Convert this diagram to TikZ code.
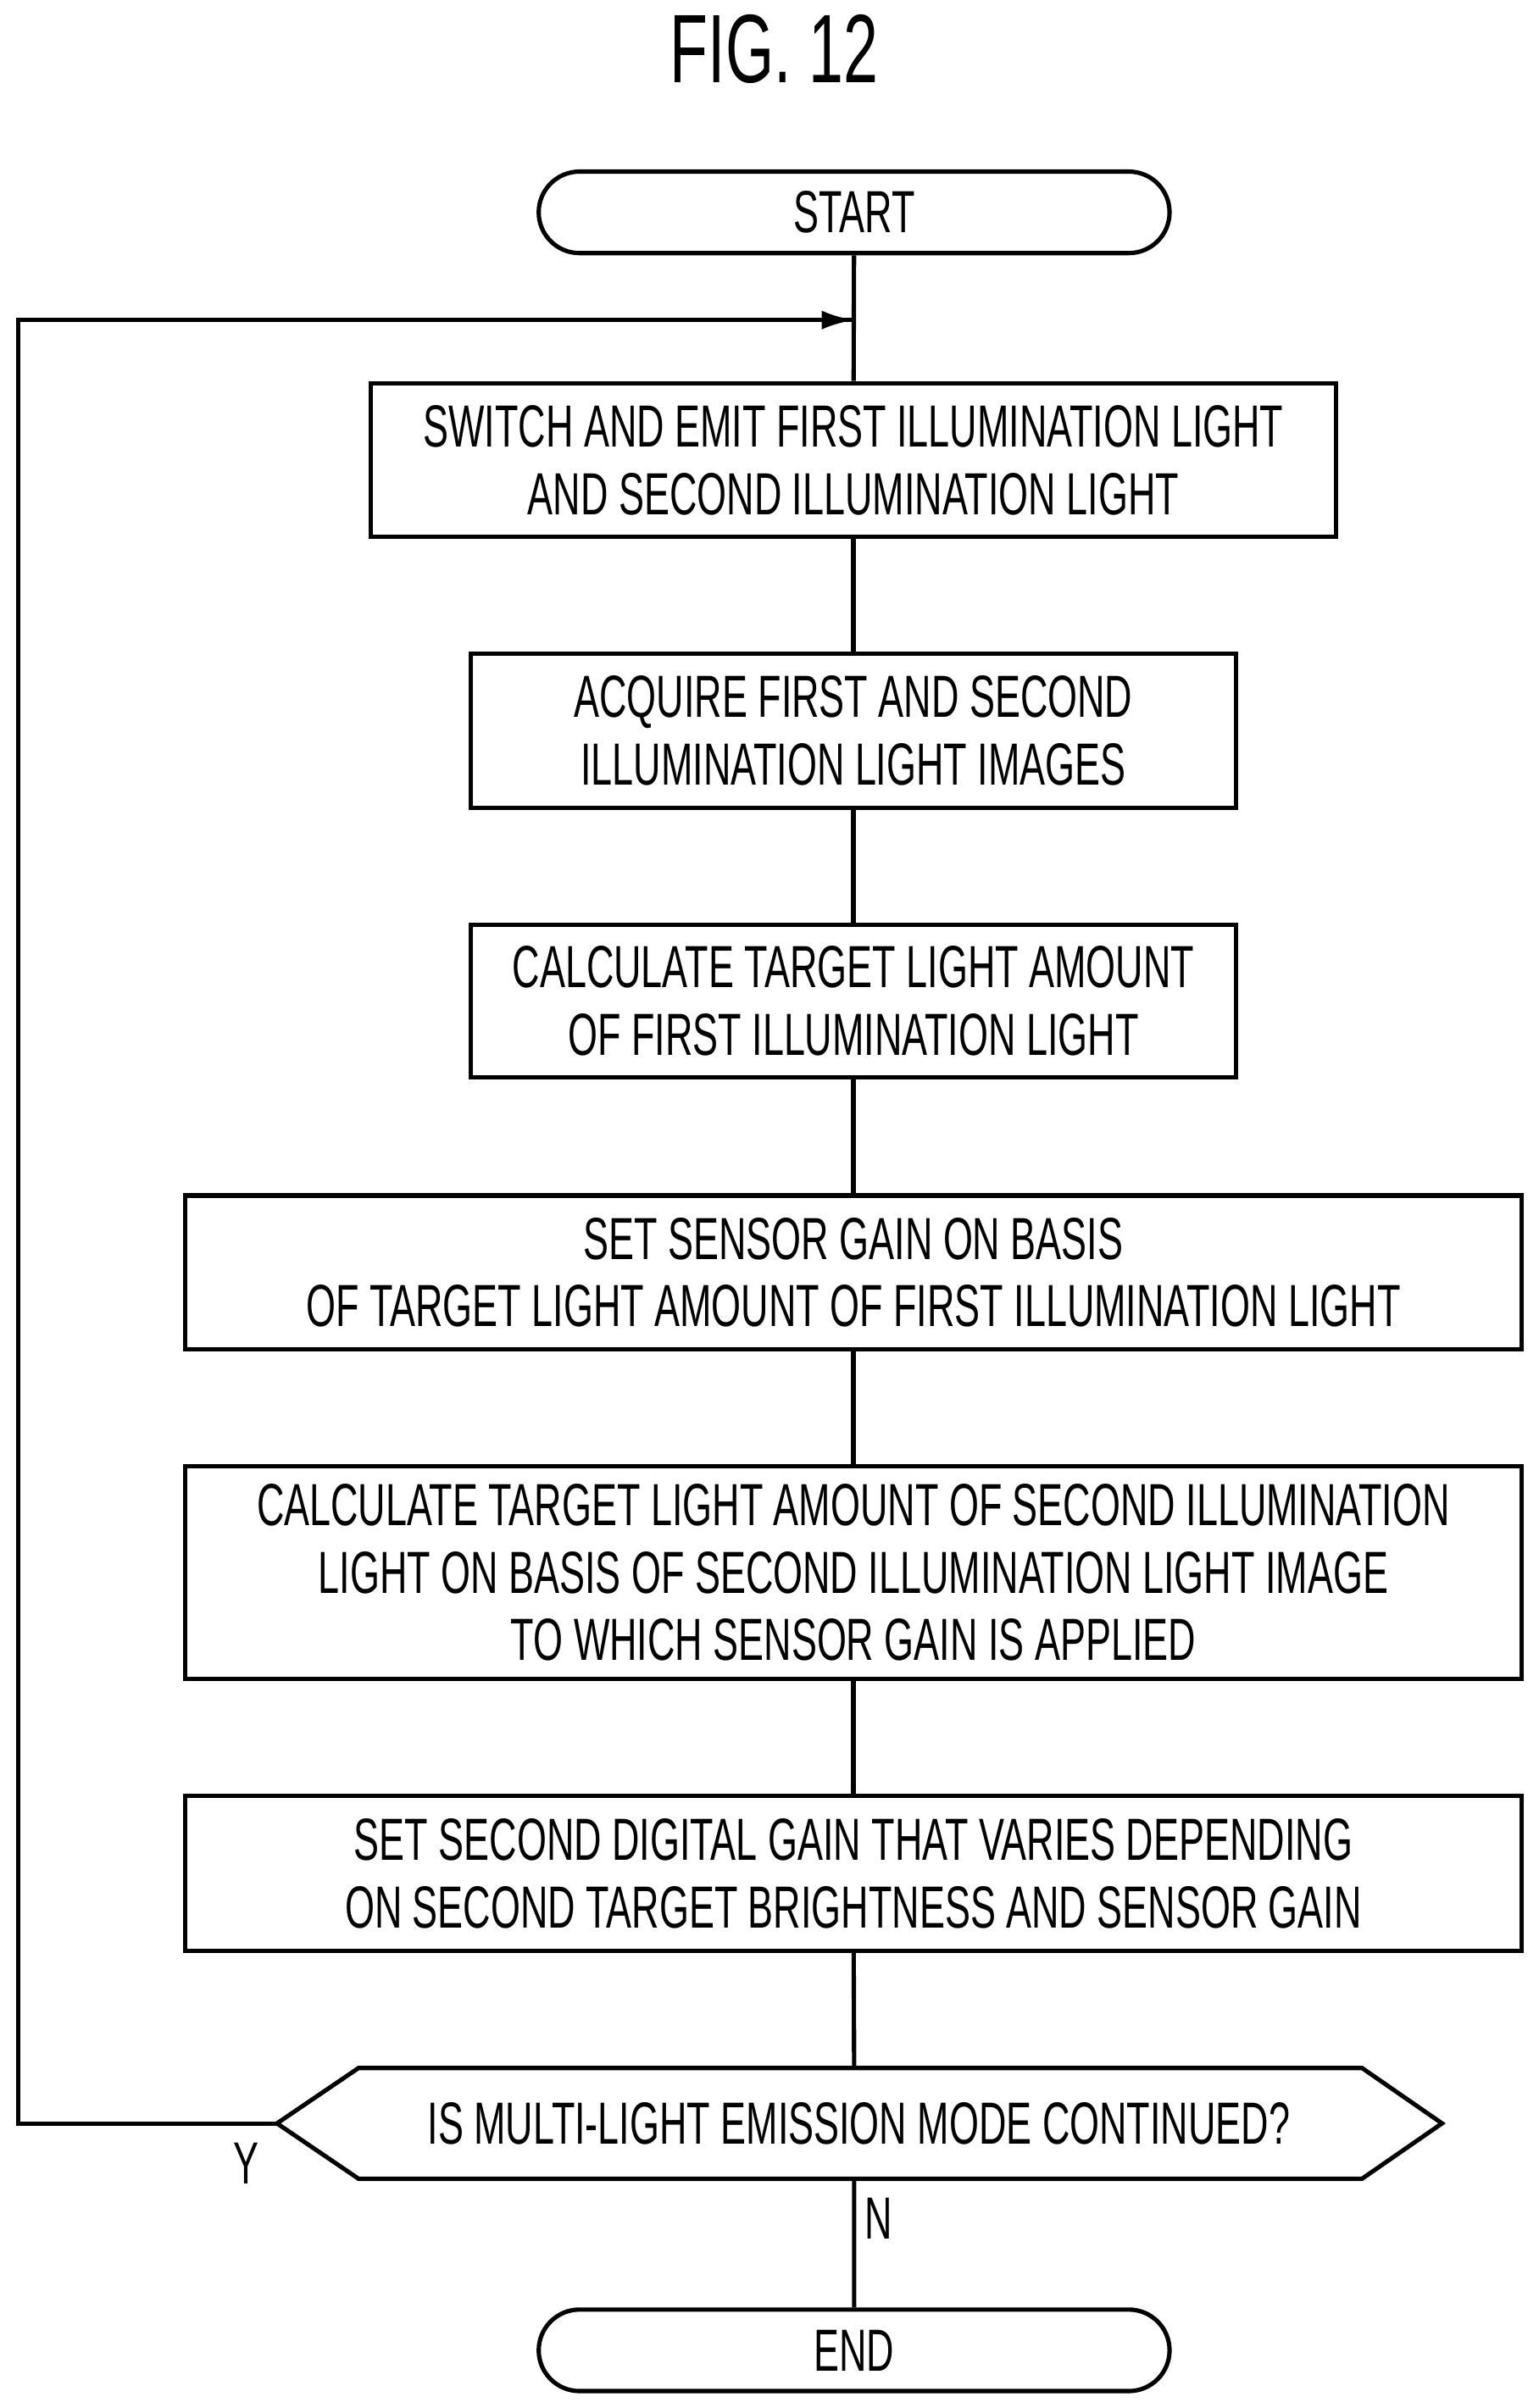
\documentclass[tikz,border=0pt]{standalone}
\usepackage{fontspec}
\setmainfont[FakeStretch=0.64]{Liberation Sans}
\usetikzlibrary{arrows.meta,shapes.misc}
\begin{document}
\begin{tikzpicture}[x=0.02cm,y=-0.02cm,
  line width=1.6pt,
  every node/.style={font=\fontsize{22}{25}\selectfont, align=center, inner sep=0pt},
  box/.style={draw, rectangle},
  term/.style={draw, rounded rectangle, minimum width=8.2cm, minimum height=1.06cm},
  lbl/.style={font=\fontsize{22}{25}\selectfont}]
\useasboundingbox (0,0) rectangle (1000,1565);
\node[font=\fontsize{36}{40}\selectfont] (title) at (503,32) {FIG. 12};
\node[term] (start) at (555,138) {START};
\node[box, minimum width=12.54cm, minimum height=2cm] (b1) at (554.5,299) {SWITCH AND EMIT FIRST ILLUMINATION LIGHT\\AND SECOND ILLUMINATION LIGHT};
\node[box, minimum width=9.94cm, minimum height=2cm] (b2) at (554.5,475) {ACQUIRE FIRST AND SECOND\\ILLUMINATION LIGHT IMAGES};
\node[box, minimum width=9.94cm, minimum height=1.98cm] (b3) at (554.5,650.5) {CALCULATE TARGET LIGHT AMOUNT\\OF FIRST ILLUMINATION LIGHT};
\node[box, minimum width=17.38cm, minimum height=2cm] (b4) at (554.5,827) {SET SENSOR GAIN ON BASIS\\OF TARGET LIGHT AMOUNT OF FIRST ILLUMINATION LIGHT};
\node[box, minimum width=17.38cm, minimum height=2.76cm] (b5) at (554.5,1022) {CALCULATE TARGET LIGHT AMOUNT OF SECOND ILLUMINATION\\LIGHT ON BASIS OF SECOND ILLUMINATION LIGHT IMAGE\\TO WHICH SENSOR GAIN IS APPLIED};
\node[box, minimum width=17.38cm, minimum height=2.02cm] (b6) at (554.5,1217.5) {SET SECOND DIGITAL GAIN THAT VARIES DEPENDING\\ON SECOND TARGET BRIGHTNESS AND SENSOR GAIN};
\node (dec) at (558,1380) {IS MULTI-LIGHT EMISSION MODE CONTINUED?};
\coordinate (dl) at (180,1380);
\coordinate (dr) at (937,1380);
\coordinate (dt) at (555,1344);
\coordinate (db) at (555,1416);
\draw (dl) -- (233,1344) -- (885,1344) -- (dr) -- (885,1416) -- (233,1416) -- cycle;
\node[term] (end) at (555,1527.5) {END};
\coordinate (merge) at (555,208);
\coordinate (lt) at (12,208);
\coordinate (lb) at (12,1380);
\draw (start) -- (b1);
\draw (b1) -- (b2);
\draw (b2) -- (b3);
\draw (b3) -- (b4);
\draw (b4) -- (b5);
\draw (b5) -- (b6);
\draw (b6) -- (dt);
\draw (db) -- (end);
\draw (dl) -- (lb) -- (lt) -- (merge);
\draw[-{Latex[length=12pt,width=7pt]}] (lt) -- (merge);
\node[lbl] (y) at (160,1406) {Y};
\node[lbl] (n) at (571,1442) {N};
\end{tikzpicture}
\end{document}
